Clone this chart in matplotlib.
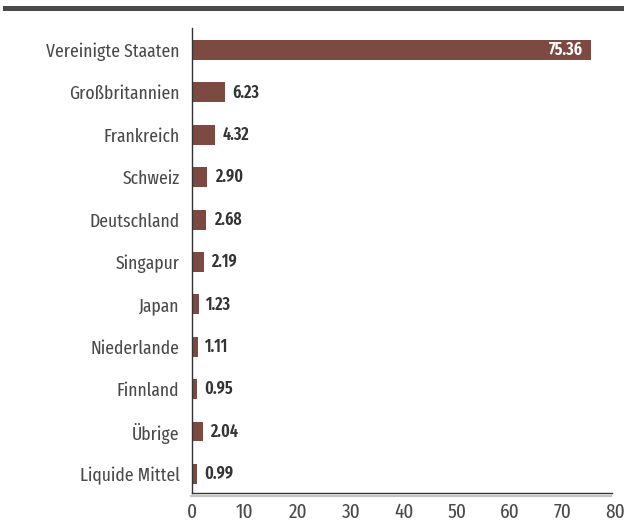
import matplotlib
matplotlib.use('Agg')
import matplotlib.pyplot as plt
from matplotlib.lines import Line2D

# Daten
laender = ['Vereinigte Staaten', 'Großbritannien', 'Frankreich', 'Schweiz', 'Deutschland',
           'Singapur', 'Japan', 'Niederlande', 'Finnland', 'Übrige', 'Liquide Mittel']
anteile = [75.36, 6.23, 4.32, 2.90, 2.68, 2.19, 1.23, 1.11, 0.95, 2.04, 0.99]
x_ticks = [0, 10, 20, 30, 40, 50, 60, 70, 80]

plt.rcParams['font.family'] = ['Fira Sans Extra Condensed', 'Fira Sans Condensed', 'DejaVu Sans']

BALKEN = '#7d4a42'
TEXT = '#4a4a4a'

fig = plt.figure(figsize=(6.24, 5.32), dpi=100)
W, H = 624, 532
ax = fig.add_axes([192 / W, 1 - 493 / H, (615.5 - 192) / W, (493 - 28) / H])

y = list(range(len(laender)))
ax.barh(y, anteile, height=0.47, color=BALKEN)
ax.set_ylim(len(laender) - 1 + 0.45, -0.52)
ax.set_xlim(0, 80)
ax.set_yticks(y)
ax.set_yticklabels(laender, fontsize=13.8, color=TEXT)
ax.set_xticks(x_ticks)
ax.set_xticklabels([str(t) for t in x_ticks], fontsize=15, color=TEXT)
ax.tick_params(length=0, pad=9)
ax.tick_params(axis='x', pad=7)

for s in ['top', 'right']:
    ax.spines[s].set_visible(False)
ax.spines['left'].set_color('#333333')
ax.spines['bottom'].set_color('#333333')
ax.spines['left'].set_linewidth(1.0)
ax.spines['bottom'].set_linewidth(1.0)
ax.spines['bottom'].set_bounds(0, 79.3)

# Werte
for i, v in enumerate(anteile):
    if v > 50:
        ax.text(v - 1.5, i, f'{v:.2f}', ha='right', va='center', fontsize=12.5,
                fontweight='semibold', color='white')
    else:
        ax.text(v + 1.4, i, f'{v:.2f}', ha='left', va='center', fontsize=12.5,
                fontweight='semibold', color='#333333')

# Linie oben und hellgraue Linie unter der Achse
fig.add_artist(Line2D([5 / W, 1], [1 - 7.5 / H, 1 - 7.5 / H], color='#4a4a4a', lw=3.6,
                      transform=fig.transFigure))
fig.add_artist(Line2D([191 / W, 611 / W], [1 - 495.5 / H, 1 - 495.5 / H], color='#c4c4c4',
                      lw=1.5, transform=fig.transFigure))

fig.savefig('out.png', dpi=100)
